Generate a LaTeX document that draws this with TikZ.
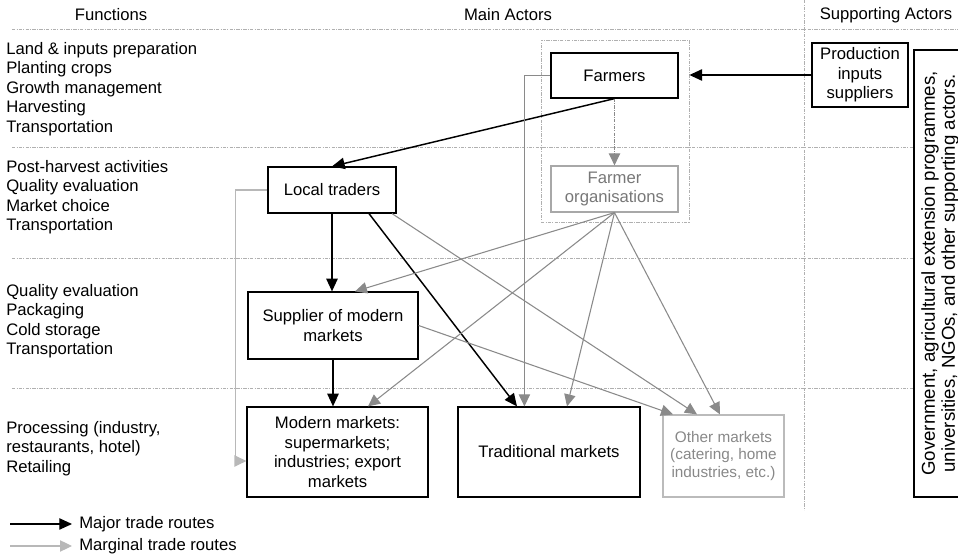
\documentclass[tikz,border=0pt]{standalone}
\usepackage{fontspec}
\setmainfont{Liberation Sans}
\usetikzlibrary{arrows.meta,calc}
\definecolor{gridgray}{HTML}{B0B0B0}
\definecolor{midgray}{HTML}{8A8A8A}
\definecolor{faintgray}{HTML}{B8B8B8}
\definecolor{fobox}{HTML}{A8A8A8}
\definecolor{fotext}{HTML}{777777}
\definecolor{omtext}{HTML}{888888}
\definecolor{omline}{HTML}{BBBBBB}

\begin{document}
\begin{tikzpicture}[x=0.75pt,y=-0.75pt,
  font=\fontsize{12.5pt}{14.6pt}\selectfont,
  box/.style={draw, line width=0.9pt, inner sep=0pt, align=center},
  gridline/.style={gridgray, line width=0.6pt, dash pattern=on 2.5pt off 1pt on 0.6pt off 1pt},
  major/.style={line width=1.1pt, -{Triangle[length=9.5pt,width=8.5pt]}},
  marginal/.style={midgray, line width=0.8pt, -{Triangle[length=9pt,width=8.5pt]}},
  faint/.style={faintgray, line width=0.9pt, -{Triangle[length=9pt,width=8.5pt]}},
  functext/.style={anchor=west, align=left, inner sep=0pt}
]
\useasboundingbox (0,0) rectangle (958,559);

% column headings
\node (hfun)  at (111,15) {Functions};
\node (hmain) at (508,15) {Main Actors};
\node (hsup)  at (886,15) {Supporting Actors};

% band separators
\draw[gridline] (12,29) -- (958,29);
\draw[gridline] (12,147) -- (914,147);
\draw[gridline] (12,258) -- (914,258);
\draw[gridline] (12,388) -- (914,388);
\draw[gridline] (804,0) -- (804,510);

% functions per band
\node[functext] (f1) at (6,89) {Land \& inputs preparation\\Planting crops\\Growth management\\Harvesting\\Transportation};
\node[functext] (f2) at (6,197) {Post-harvest activities\\Quality evaluation\\Market choice\\Transportation};
\node[functext] (f3) at (6,321) {Quality evaluation\\Packaging\\Cold storage\\Transportation};
\node[functext] (f4) at (6,448.5) {Processing (industry,\\restaurants, hotel)\\Retailing};

% farmer group
\node[draw=gridgray, line width=0.6pt, dash pattern=on 2.5pt off 1pt on 0.6pt off 1pt,
      minimum width=111pt, minimum height=136.5pt, inner sep=0pt] (fcont) at (615,131) {};
\node[box, minimum width=95.25pt, minimum height=33.75pt] (farm) at (614.5,75.5) {Farmers};
\node[box, draw=fobox, text=fotext, minimum width=95.25pt, minimum height=34.5pt] (fo) at (614.5,189) {Farmer\\organisations};

% main actors
\node[box, minimum width=96pt, minimum height=34.5pt] (lt) at (332,190) {Local traders};
\node[box, minimum width=127.5pt, minimum height=50.25pt] (sup) at (333,325.5) {Supplier of modern\\markets};
\node[box, minimum width=135.75pt, minimum height=67.5pt] (mm) at (337.5,452) {Modern markets:\\supermarkets;\\industries; export\\markets};
\node[box, minimum width=136.5pt, minimum height=67.5pt] (tm) at (549,452) {Traditional markets};
\node[box, draw=omline, text=omtext, minimum width=90.75pt, minimum height=61.5pt,
      font=\fontsize{11.5pt}{13.1pt}\selectfont] (om) at (723.5,456) {Other markets\\(catering, home\\industries, etc.)};

% supporting actors
\node[box, minimum width=72pt, minimum height=48pt] (prod) at (860,75) {Production\\inputs\\suppliers};
\node[box, rotate=90, minimum width=335.25pt, minimum height=39pt,
      font=\fontsize{14pt}{15pt}\selectfont] (gov) at (940,273.5)
  {Government, agricultural extension programmes,\\universities, NGOs, and other supporting actors.};

% major trade routes
\draw[major] (prod.west) -- (fcont.east |- prod.west);
\draw[major] (farm.south) -- (lt.north);
\draw[major] (lt.south) -- (lt.south |- sup.north);
\draw[major] ($(lt.south)+(37,0)$) -- ($(tm.north)+(-32,0)$);
\draw[major] (sup.south) -- (sup.south |- mm.north);

% farmers to their organisations
\draw[midgray, line width=0.8pt, dash pattern=on 2.5pt off 1pt on 0.6pt off 1pt,
      -{Triangle[length=9pt,width=8.5pt]}] (farm.south) -- (fo.north);

% marginal trade routes
\draw[marginal] (farm.west) -- ++(-26,0) coordinate (fbend) -- (fbend |- tm.north);
\draw[faint] (lt.west) -- ++(-32,0) coordinate (lbend) |- ($(mm.west)+(0,9)$);
\draw[marginal] ($(lt.south)+(60,0)$) -- ($(om.north)+(-26.5,0)$);
\draw[marginal] (sup.east) -- ($(om.north)+(-50.5,0)$);
\draw[marginal] (fo.south) -- ($(sup.north)+(22,0)$);
\draw[marginal] (fo.south) -- ($(mm.north)+(30.5,0)$);
\draw[marginal] (fo.south) -- ($(tm.north)+(18,0)$);
\draw[marginal] (fo.south) -- ($(om.north)+(-3.5,0)$);

% legend
\coordinate (lga) at (10,524);
\coordinate (lgb) at (72,524);
\coordinate (lgc) at (10,546);
\coordinate (lgd) at (72,546);
\draw[major, line width=0.9pt] (lga) -- (lgb);
\draw[faint] (lgc) -- (lgd);
\node[anchor=west, inner sep=0pt] (lgmaj) at (79,524) {Major trade routes};
\node[anchor=west, inner sep=0pt] (lgmar) at (79,546) {Marginal trade routes};
\end{tikzpicture}
\end{document}
